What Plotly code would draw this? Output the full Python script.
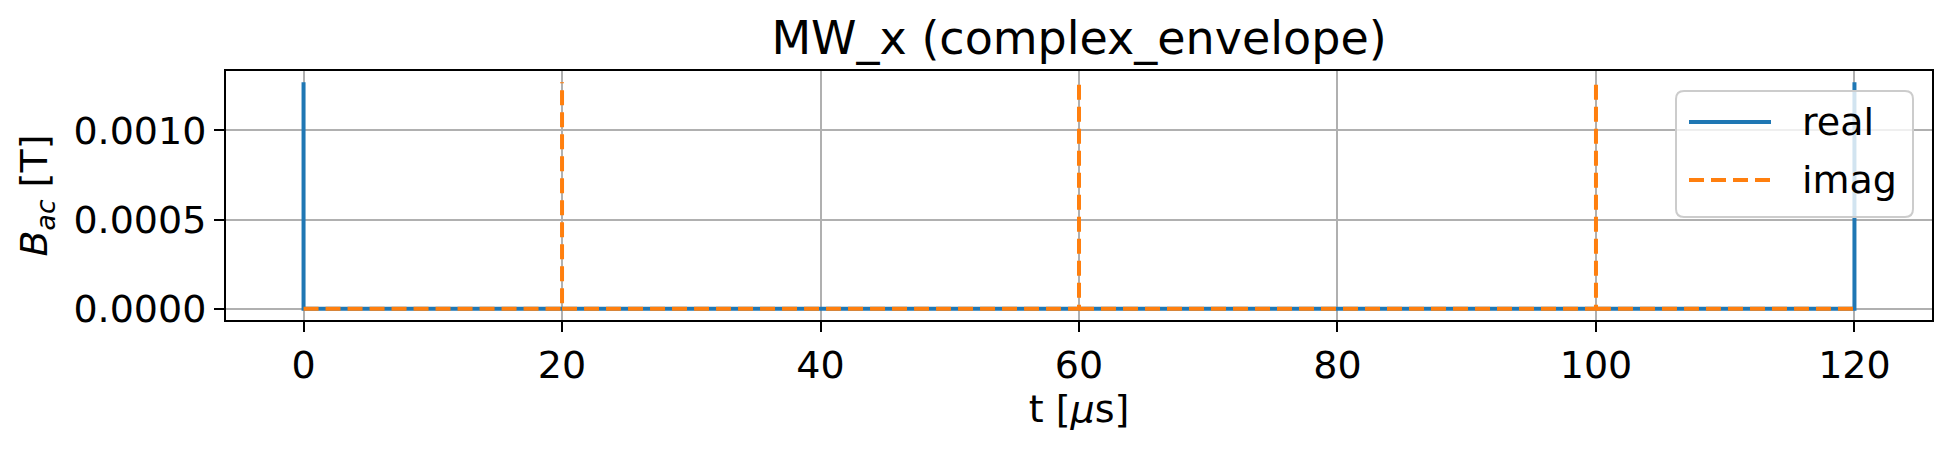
import plotly.graph_objects as go

# ---- data ----
amp = 0.00127
t_real = [0, 0, 120, 120]
real_vals = [amp, 0, 0, amp]
t_imag = [0, 20, 20, None, 20, 60, 60, None, 60, 100, 100, None, 100, 120]
imag_vals = [0, 0, amp, None, 0, 0, amp, None, 0, 0, amp, None, 0, 0]
x_ticks = [0, 20, 40, 60, 80, 100, 120]
y_ticks = [0.0, 0.0005, 0.0010]
series_names = ["real", "imag"]
colors = ["#1f77b4", "#ff7f0e"]

W, H = 1951, 451
L, R, T, B = 226, 1932, 71, 320
FONT = "DejaVu Sans"
FS = 38

fig = go.Figure()
fig.add_trace(go.Scatter(x=t_real, y=real_vals, mode="lines", name=series_names[0],
                         line=dict(color=colors[0], width=4), showlegend=False))
fig.add_trace(go.Scatter(x=t_imag, y=imag_vals, mode="lines", name=series_names[1],
                         connectgaps=False,
                         line=dict(color=colors[1], width=4, dash="15px,7px"), showlegend=False))

ymax = amp * 1.05
ymin = -amp * 0.05

def px2x(px):
    return (px - L) / (R - L)

def px2y(py):
    return (B - py) / (B - T)

# custom legend (matplotlib style)
lx0, lx1, ly0, ly1 = 1676, 1913, 91, 217
r = 8
rx, ry = r / (R - L), r / (B - T)
X0, X1, Y0, Y1 = px2x(lx0), px2x(lx1), px2y(ly1), px2y(ly0)
path = (f"M {X0+rx},{Y0} L {X1-rx},{Y0} Q {X1},{Y0} {X1},{Y0+ry} "
        f"L {X1},{Y1-ry} Q {X1},{Y1} {X1-rx},{Y1} L {X0+rx},{Y1} "
        f"Q {X0},{Y1} {X0},{Y1-ry} L {X0},{Y0+ry} Q {X0},{Y0} {X0+rx},{Y0} Z")
shapes = [dict(type="path", xref="paper", yref="paper", path=path,
               fillcolor="rgba(255,255,255,0.8)", line=dict(color="#cccccc", width=2),
               layer="above")]
annotations = []
rows = [122, 180]
for i, (name, c) in enumerate(zip(series_names, colors)):
    yy = px2y(rows[i])
    shapes.append(dict(type="line", xref="paper", yref="paper",
                       x0=px2x(1689), x1=px2x(1771), y0=yy, y1=yy,
                       line=dict(color=c, width=4, dash=None if i == 0 else "15px,7px"),
                       layer="above"))
    annotations.append(dict(xref="paper", yref="paper", x=px2x(1800), y=yy,
                            text=name, showarrow=False, xanchor="left", yanchor="middle",
                            font=dict(family=FONT, size=FS, color="black")))

axis_common = dict(showline=True, linecolor="black", linewidth=2, mirror=True,
                   ticks="outside", ticklen=10, tickwidth=2, tickcolor="black",
                   showgrid=True, gridcolor="#b0b0b0", gridwidth=2, zeroline=False,
                   automargin=False,
                   tickfont=dict(family=FONT, size=FS, color="black"))

fig.update_layout(
    width=W, height=H,
    margin=dict(l=L, r=W - R, t=T, b=H - B, autoexpand=False),
    paper_bgcolor="white", plot_bgcolor="white",
    title=dict(text="MW_x (complex_envelope)", x=(L + R) / 2 / W, xanchor="center",
               y=1 - 38 / H, yanchor="middle", yref="container",
               font=dict(family=FONT, size=46, color="black")),
    xaxis=dict(range=[-6, 126], tickvals=x_ticks, ticktext=[str(v) for v in x_ticks],
               title=dict(text="t [<i>μ</i>s]", font=dict(family=FONT, size=FS, color="black"),
                          standoff=10),
               **axis_common),
    yaxis=dict(range=[ymin, ymax], tickvals=y_ticks, ticktext=[f"{v:.4f}" for v in y_ticks],
               title=dict(text="<i>B</i><sub><i>ac</i></sub> [T]",
                          font=dict(family=FONT, size=FS, color="black"), standoff=14),
               **axis_common),
    shapes=shapes, annotations=annotations, showlegend=False,
)

fig.write_html("out.html", config={"displayModeBar": False},
               post_script="document.body.style.margin='0px';")
